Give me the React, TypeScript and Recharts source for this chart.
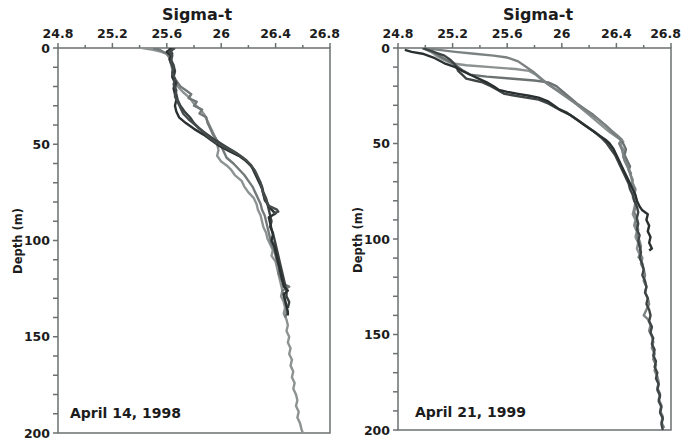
import { ReferenceArea, Scatter, ScatterChart, XAxis, YAxis } from "recharts";

// sigma-t profiles, each point is [depth (m), sigma-t]
const APR98_A: [number, number][] = [
  [0, 25.42], [1, 25.5], [2, 25.56], [3, 25.6], [5, 25.62], [8, 25.63], [11, 25.64], [14, 25.64],
  [17, 25.66], [20, 25.68], [23, 25.72], [26, 25.77], [29, 25.8], [32, 25.85], [35, 25.88],
  [38, 25.9], [41, 25.92], [44, 25.94], [47, 25.96], [50, 25.97], [53, 25.98], [56, 25.97],
  [59, 26.0], [61, 26.04], [63, 26.07], [66, 26.1], [69, 26.15], [72, 26.17], [75, 26.2],
  [78, 26.24], [81, 26.26], [84, 26.27], [87, 26.29], [90, 26.3], [93, 26.31], [96, 26.33],
  [99, 26.34], [102, 26.36], [105, 26.38], [108, 26.37], [111, 26.4], [114, 26.41], [117, 26.42],
  [120, 26.43], [123, 26.44], [126, 26.45], [129, 26.44], [132, 26.46], [135, 26.47], [138, 26.46],
  [141, 26.48], [144, 26.49], [147, 26.48], [150, 26.5], [153, 26.49], [156, 26.51], [159, 26.5],
  [162, 26.52], [165, 26.51], [168, 26.53], [171, 26.52], [174, 26.54], [177, 26.53], [180, 26.55],
  [183, 26.56], [186, 26.55], [189, 26.57], [192, 26.56], [195, 26.58], [198, 26.59], [200, 26.6],
];
const APR98_B: [number, number][] = [
  [0, 25.5], [1, 25.55], [3, 25.6], [5, 25.62], [8, 25.63], [11, 25.65], [14, 25.64], [17, 25.67],
  [20, 25.7], [22, 25.74], [24, 25.78], [26, 25.76], [28, 25.82], [30, 25.8], [32, 25.86],
  [34, 25.84], [36, 25.89], [39, 25.9], [42, 25.92], [45, 25.94], [48, 25.97], [51, 26.0],
  [54, 26.02], [57, 26.04], [60, 26.09], [63, 26.13], [66, 26.17], [69, 26.2], [72, 26.23],
  [75, 26.25], [78, 26.27], [81, 26.29], [84, 26.3], [87, 26.32], [90, 26.33], [93, 26.34],
  [96, 26.35], [99, 26.36], [102, 26.37], [105, 26.39], [108, 26.4], [111, 26.41], [114, 26.43],
  [117, 26.42], [120, 26.44], [123, 26.47], [124, 26.5], [126, 26.45], [129, 26.46], [132, 26.47],
  [135, 26.48], [138, 26.48], [140, 26.47],
];
const APR98_C: [number, number][] = [
  [0, 25.64], [2, 25.6], [4, 25.63], [6, 25.62], [9, 25.64], [12, 25.65], [15, 25.64], [18, 25.66],
  [21, 25.65], [24, 25.66], [27, 25.67], [30, 25.66], [33, 25.67], [36, 25.69], [39, 25.74],
  [42, 25.8], [45, 25.87], [48, 25.93], [51, 25.99], [54, 26.07], [56, 26.13], [58, 26.17],
  [61, 26.22], [64, 26.24], [67, 26.26], [70, 26.28], [73, 26.3], [76, 26.31], [79, 26.32],
  [82, 26.35], [84, 26.37], [86, 26.4], [88, 26.35], [91, 26.36], [94, 26.37], [97, 26.38],
  [100, 26.37], [103, 26.39], [106, 26.4], [109, 26.41], [112, 26.42], [115, 26.43], [118, 26.44],
  [121, 26.45], [124, 26.46], [126, 26.49], [128, 26.46], [131, 26.47], [134, 26.48], [137, 26.49],
  [139, 26.49],
];
const APR98_D: [number, number][] = [
  [0, 25.66], [2, 25.62], [4, 25.64], [7, 25.63], [10, 25.65], [13, 25.64], [16, 25.66],
  [19, 25.65], [22, 25.67], [25, 25.66], [28, 25.68], [31, 25.7], [34, 25.72], [37, 25.76],
  [40, 25.81], [43, 25.86], [46, 25.9], [49, 25.96], [52, 26.04], [55, 26.12], [58, 26.18],
  [61, 26.22], [64, 26.25], [67, 26.27], [70, 26.29], [73, 26.3], [76, 26.31], [79, 26.33],
  [82, 26.35], [84, 26.41], [85, 26.42], [86, 26.38],
];
const APR98_E: [number, number][] = [
  [0, 25.62], [3, 25.64], [6, 25.63], [9, 25.65], [12, 25.66], [15, 25.65], [18, 25.67],
  [21, 25.66], [24, 25.67], [27, 25.68], [30, 25.7], [33, 25.73], [36, 25.77], [39, 25.8],
  [42, 25.84], [45, 25.9], [48, 25.96], [51, 26.03], [54, 26.1], [57, 26.16], [60, 26.2],
  [63, 26.24], [66, 26.26], [69, 26.28], [72, 26.3], [75, 26.31], [78, 26.33], [81, 26.34],
  [84, 26.35], [87, 26.36], [90, 26.37], [93, 26.36], [96, 26.38], [99, 26.39], [102, 26.4],
  [105, 26.41], [108, 26.42], [111, 26.43], [114, 26.44], [117, 26.45], [120, 26.46],
  [123, 26.47], [126, 26.48], [129, 26.48], [132, 26.5], [135, 26.49],
];

const APR99_A: [number, number][] = [
  [1, 24.85], [2, 24.9], [3, 24.98], [5, 25.06], [8, 25.14], [10, 25.22], [12, 25.27], [14, 25.33],
  [16, 25.39], [18, 25.45], [20, 25.5], [22, 25.54], [23, 25.6], [24, 25.68], [25, 25.76],
  [26, 25.83], [28, 25.9], [30, 25.94], [32, 25.98], [34, 26.04], [36, 26.08], [38, 26.12],
  [40, 26.16], [42, 26.2], [44, 26.24], [46, 26.28], [48, 26.32], [50, 26.35], [53, 26.38],
  [56, 26.4], [59, 26.42], [62, 26.44], [65, 26.46], [68, 26.48], [71, 26.5], [74, 26.52],
  [77, 26.54], [80, 26.55], [83, 26.57], [85, 26.59], [87, 26.63], [90, 26.62], [93, 26.64],
  [96, 26.63], [99, 26.65], [102, 26.64], [105, 26.66], [106, 26.64],
];
const APR99_B: [number, number][] = [
  [0, 24.98], [2, 25.06], [4, 25.14], [6, 25.18], [8, 25.21], [10, 25.23], [12, 25.24],
  [14, 25.27], [16, 25.3], [17, 25.36], [18, 25.42], [20, 25.48], [22, 25.53], [24, 25.58],
  [25, 25.66], [26, 25.74], [27, 25.83], [29, 25.9], [31, 25.95], [33, 26.0], [35, 26.06],
  [38, 26.12], [41, 26.18], [44, 26.24], [47, 26.29], [50, 26.33], [53, 26.36], [56, 26.39],
  [59, 26.41], [62, 26.43], [65, 26.45], [68, 26.47], [71, 26.49], [74, 26.5], [77, 26.52],
  [80, 26.53], [83, 26.55], [86, 26.56], [89, 26.55], [92, 26.56], [95, 26.55], [98, 26.57],
  [101, 26.56], [104, 26.57], [107, 26.58], [110, 26.57], [113, 26.59], [116, 26.6], [119, 26.59],
  [122, 26.61], [125, 26.62], [128, 26.61], [131, 26.63], [134, 26.62], [137, 26.64], [140, 26.65],
  [143, 26.64], [146, 26.66], [149, 26.65], [152, 26.67], [155, 26.66], [158, 26.68], [161, 26.67],
  [164, 26.69], [167, 26.68], [170, 26.7], [173, 26.69], [176, 26.71], [179, 26.7], [182, 26.72],
  [185, 26.71], [188, 26.73], [191, 26.72], [194, 26.74], [197, 26.73], [200, 26.74],
];
const APR99_C: [number, number][] = [
  [0, 25.0], [1, 25.1], [2, 25.22], [3, 25.36], [4, 25.5], [5, 25.6], [7, 25.68], [10, 25.74],
  [13, 25.8], [16, 25.85], [19, 25.9], [22, 25.96], [25, 26.02], [28, 26.08], [31, 26.14],
  [34, 26.2], [37, 26.26], [40, 26.31], [43, 26.36], [46, 26.41], [48, 26.44], [50, 26.42],
  [53, 26.44], [56, 26.45], [59, 26.46], [62, 26.48], [65, 26.5], [68, 26.51], [71, 26.52],
  [74, 26.54], [77, 26.53], [80, 26.55], [83, 26.54], [86, 26.53], [89, 26.55], [92, 26.54],
  [95, 26.56], [98, 26.55], [101, 26.57], [104, 26.58], [107, 26.57], [110, 26.59], [113, 26.58],
  [116, 26.6], [119, 26.61], [122, 26.6], [125, 26.62], [128, 26.61], [131, 26.63], [134, 26.64],
  [137, 26.62], [140, 26.6], [142, 26.63], [145, 26.65], [148, 26.64], [151, 26.66], [154, 26.67],
  [157, 26.66], [160, 26.68], [163, 26.67], [166, 26.69], [169, 26.68], [172, 26.7], [175, 26.71],
  [178, 26.7], [181, 26.72], [184, 26.71], [187, 26.73], [190, 26.72], [193, 26.74], [196, 26.73],
  [199, 26.75],
];
const APR99_D: [number, number][] = [
  [0, 24.98], [2, 25.04], [4, 25.08], [6, 25.13], [8, 25.19], [9, 25.3], [10, 25.48], [11, 25.66],
  [12, 25.76], [14, 25.81], [17, 25.86], [20, 25.92], [23, 25.99], [26, 26.05], [29, 26.1],
  [32, 26.15], [35, 26.2], [38, 26.25], [41, 26.3], [44, 26.35], [47, 26.41], [49, 26.45],
  [51, 26.43], [54, 26.46], [57, 26.45], [60, 26.47], [63, 26.49], [66, 26.5], [69, 26.52],
  [72, 26.51], [75, 26.53], [78, 26.52], [81, 26.54], [84, 26.53], [87, 26.52], [90, 26.54],
  [93, 26.53], [96, 26.55], [99, 26.54], [102, 26.56], [105, 26.55], [108, 26.57], [110, 26.56],
];
const APR99_E: [number, number][] = [
  [0, 25.02], [2, 25.06], [4, 25.1], [6, 25.15], [8, 25.2], [10, 25.24], [12, 25.28], [14, 25.33],
  [15, 25.45], [16, 25.62], [17, 25.8], [18, 25.9], [20, 25.96], [23, 26.01], [26, 26.06],
  [29, 26.11], [32, 26.17], [35, 26.23], [38, 26.28], [41, 26.33], [44, 26.37], [47, 26.42],
  [50, 26.45], [53, 26.47], [56, 26.46], [59, 26.48], [62, 26.5], [64, 26.49], [66, 26.51],
];

const X_TICKS = [24.8, 25.0, 25.2, 25.4, 25.6, 25.8, 26.0, 26.2, 26.4, 26.6, 26.8];
const X_LABELS = [24.8, 25.2, 25.6, 26, 26.4, 26.8];
const Y_TICKS = [0, 10, 20, 30, 40, 50, 60, 70, 80, 90, 100, 110, 120, 130, 140, 150, 160, 170, 180, 190, 200];
const Y_LABELS = [0, 50, 100, 150, 200];

const FONT = "'DejaVu Sans', sans-serif";
const AXIS = "#6b7070";
const INK = "#1c1c1c";

const PANELS = [
  {
    date: "April 14, 1998",
    profiles: [
      { data: APR98_A, color: "#8d9393" },
      { data: APR98_B, color: "#737979" },
      { data: APR98_E, color: "#3a4040" },
      { data: APR98_C, color: "#2b3131" },
      { data: APR98_D, color: "#454b4b" },
    ],
  },
  {
    date: "April 21, 1999",
    profiles: [
      { data: APR99_D, color: "#8c9292" },
      { data: APR99_E, color: "#6c7272" },
      { data: APR99_C, color: "#7c8282" },
      { data: APR99_B, color: "#3f4545" },
      { data: APR99_A, color: "#2a3030" },
    ],
  },
];

const near = (list: number[], v: number) => list.some((l) => Math.abs(l - v) < 1e-6);

function XTick(props: any) {
  const { x, y, payload } = props;
  const major = near(X_LABELS, payload.value);
  // the last label sits flush against the right edge
  const last = near([X_LABELS[X_LABELS.length - 1]], payload.value);
  return (
    <g>
      <line x1={x} x2={x} y1={y} y2={y - (major ? 5 : 3)} stroke={AXIS} strokeWidth={1.5} />
      {major && (
        <text
          x={last ? x + 10 : x}
          y={y - 10}
          textAnchor={last ? "end" : "middle"}
          fontFamily={FONT}
          fontWeight="bold"
          fontSize={12.5}
          fill={INK}
        >
          {String(payload.value)}
        </text>
      )}
    </g>
  );
}

function YTick(props: any) {
  const { x, y, payload } = props;
  const major = near(Y_LABELS, payload.value);
  return (
    <g>
      <line x1={x} x2={x - 5} y1={y} y2={y} stroke={AXIS} strokeWidth={1.5} />
      {major && (
        <text x={x - 8} y={y} dy="0.36em" textAnchor="end" fontFamily={FONT} fontWeight="bold" fontSize={12.5} fill={INK}>
          {payload.value}
        </text>
      )}
    </g>
  );
}

function Panel({ panel, width, bottom }: { panel: (typeof PANELS)[number]; width: number; bottom: number }) {
  return (
    <ScatterChart width={width} height={443} margin={{ top: 18, left: 18, right: 10, bottom }}>
      <XAxis
        xAxisId={0}
        type="number"
        dataKey="s"
        orientation="top"
        domain={[24.8, 26.8]}
        ticks={X_TICKS}
        interval={0}
        allowDataOverflow
        height={30}
        axisLine={false}
        tickLine={false}
        tickSize={0}
        tickMargin={0}
        tick={<XTick />}
      />
      <YAxis
        yAxisId={0}
        type="number"
        dataKey="d"
        domain={[0, 200]}
        reversed
        ticks={Y_TICKS}
        interval={0}
        allowDataOverflow
        width={40}
        axisLine={false}
        tickLine={false}
        tickSize={0}
        tickMargin={0}
        tick={<YTick />}
      />
      <ReferenceArea x1={24.8} x2={26.8} y1={0} y2={200} fill="none" stroke={AXIS} strokeWidth={1.5} ifOverflow="visible" />
      {panel.profiles.map((p, i) => (
        <Scatter
          key={i}
          data={p.data.map(([d, s]) => ({ d, s }))}
          fill="none"
          line={{ stroke: p.color, strokeWidth: 2.4, strokeLinejoin: "round" }}
          lineType="joint"
          shape={() => <g />}
          isAnimationActive={false}
        />
      ))}
    </ScatterChart>
  );
}

export default function App() {
  const bold = { fontFamily: FONT, fontWeight: "bold" as const, fill: INK };
  return (
    <div style={{ position: "absolute", left: 0, top: 0, width: 681, height: 443, background: "#fff", overflow: "hidden" }}>
      <style>{`svg.recharts-surface { overflow: visible; }`}</style>
      <div style={{ position: "absolute", left: 0, top: 0 }}>
        <Panel panel={PANELS[0]} width={340} bottom={10} />
      </div>
      <div style={{ position: "absolute", left: 340, top: 0 }}>
        <Panel panel={PANELS[1]} width={341} bottom={13} />
      </div>
      <svg width={681} height={443} style={{ position: "absolute", left: 0, top: 0, pointerEvents: "none" }}>
        <text x={197} y={20} textAnchor="middle" fontSize={16} {...bold}>Sigma-t</text>
        <text x={538} y={20} textAnchor="middle" fontSize={16} {...bold}>Sigma-t</text>
        <text transform="translate(22,241) rotate(-90)" textAnchor="middle" fontSize={11.5} {...bold}>Depth (m)</text>
        <text transform="translate(362,240) rotate(-90)" textAnchor="middle" fontSize={11.5} {...bold}>Depth (m)</text>
        <text x={70} y={418} fontSize={14} {...bold}>{PANELS[0].date}</text>
        <text x={415} y={417} fontSize={14} {...bold}>{PANELS[1].date}</text>
      </svg>
    </div>
  );
}
